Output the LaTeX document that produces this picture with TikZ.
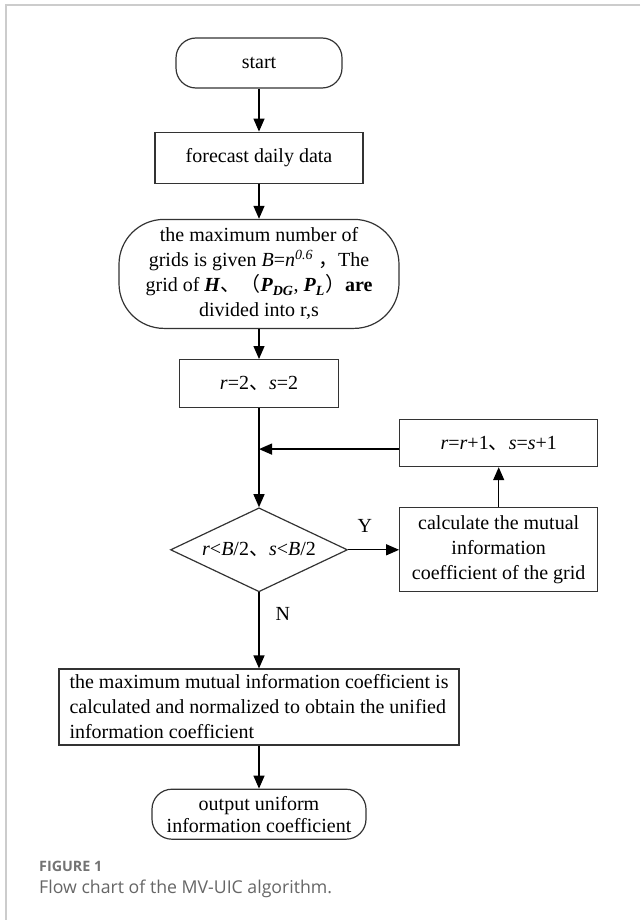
\documentclass[tikz,border=0pt]{standalone}
\usepackage{fontspec}
\setmainfont{Liberation Serif}
\newfontfamily\cjkfont{Noto Sans CJK SC}
\newfontfamily\capfont{Open Sans}
\usetikzlibrary{shapes.geometric, arrows.meta, positioning}

\newcommand{\cjk}[1]{{\cjkfont #1}}
\newcommand{\mvar}[1]{\textit{#1}}
\newcommand{\bvar}[1]{\textbf{\textit{#1}}}

\begin{document}
\begin{tikzpicture}[
    x=1pt, y=1pt,
    font=\fontsize{20}{25}\selectfont,
    term/.style={rectangle, draw=black!80, line width=1.2pt, rounded corners=20pt,
                 minimum height=50pt, align=center, inner sep=0pt},
    box/.style={rectangle, draw=black!80, line width=1.2pt, align=center, inner sep=0pt},
    cond/.style={diamond, aspect=2.1, draw=black!80, line width=1.2pt, inner sep=0pt,
                 minimum width=177pt, minimum height=84pt},
    lbl/.style={inner sep=0pt},
    arr/.style={-{Triangle[length=13pt, width=11pt]}, line width=1.3pt},
]
    \useasboundingbox (0,0) rectangle (640,-920);
    % panel frame
    \draw[black!20, line width=1.5pt] (640,-5) -- (6,-5) -- (6,-920);

    \node[term, minimum width=166pt] (start) at (259,-63) {start};
    \node[box, minimum width=208pt, minimum height=51pt, below=43pt of start] (fcst) {forecast daily data};
    \node[term, rounded corners=45pt, minimum width=280pt, minimum height=109pt, below=35pt of fcst] (grid)
        {the maximum number of\\grids is given \mvar{B}=\mvar{n}\textsuperscript{\mvar{0.6}} \cjk{，}The\\grid of \bvar{H}\cjk{、（}\bvar{P}\textsubscript{\bvar{DG}}, \bvar{P}\textsubscript{\bvar{L}}\cjk{）}\textbf{are}\\divided into r,s};
    \node[box, minimum width=159pt, minimum height=48pt, below=30pt of grid] (init) {\mvar{r}=2\cjk{、}\mvar{s}=2};
    \node[cond, below=99pt of init] (check) {\mvar{r}<\mvar{B}/2\cjk{、}\mvar{s}<\mvar{B}/2};
    \node[box, minimum width=198pt, minimum height=84pt, right=51pt of check] (calc)
        {calculate the mutual\\information\\coefficient of the grid};
    \node[box, minimum width=198pt, minimum height=47pt, above=40pt of calc] (incr)
        {\mvar{r}=\mvar{r}+1\cjk{、}\mvar{s}=\mvar{s}+1};
    \node[box, align=left, minimum width=400pt, minimum height=76pt, below=76pt of check] (mic)
        {the maximum mutual information coefficient is\\calculated and normalized to obtain the unified\\information coefficient};
    \node[term, font=\fontsize{20}{22}\selectfont, minimum width=214pt, below=43pt of mic] (out)
        {output uniform\\information coefficient};

    % caption
    \node[anchor=base west, inner sep=0pt, text=black!55,
          font=\capfont\bfseries\fontsize{14.3}{16}\selectfont] (fig) at (39,-871) {FIGURE 1};
    \node[anchor=base west, inner sep=0pt, text=black!60,
          font=\capfont\fontsize{17.7}{21}\selectfont] (cap) at (39,-893) {Flow chart of the MV-UIC algorithm.};

    \draw[arr] (start) -- (fcst);
    \draw[arr] (fcst) -- (grid);
    \draw[arr] (grid) -- (init);
    \draw[arr] (init) -- (check);
    \draw[arr] (check) -- node[lbl, pos=0.33, above=17pt] {Y} (calc);
    \draw[arr] (calc) -- (incr);
    \draw[arr] ([yshift=-6pt]incr.west) -- ([yshift=-6pt]incr.west -| init.south);
    \draw[arr] (check) -- node[lbl, pos=0.28, right=16pt] {N} (mic);
    \draw[arr] (mic) -- (out);
\end{tikzpicture}
\end{document}
